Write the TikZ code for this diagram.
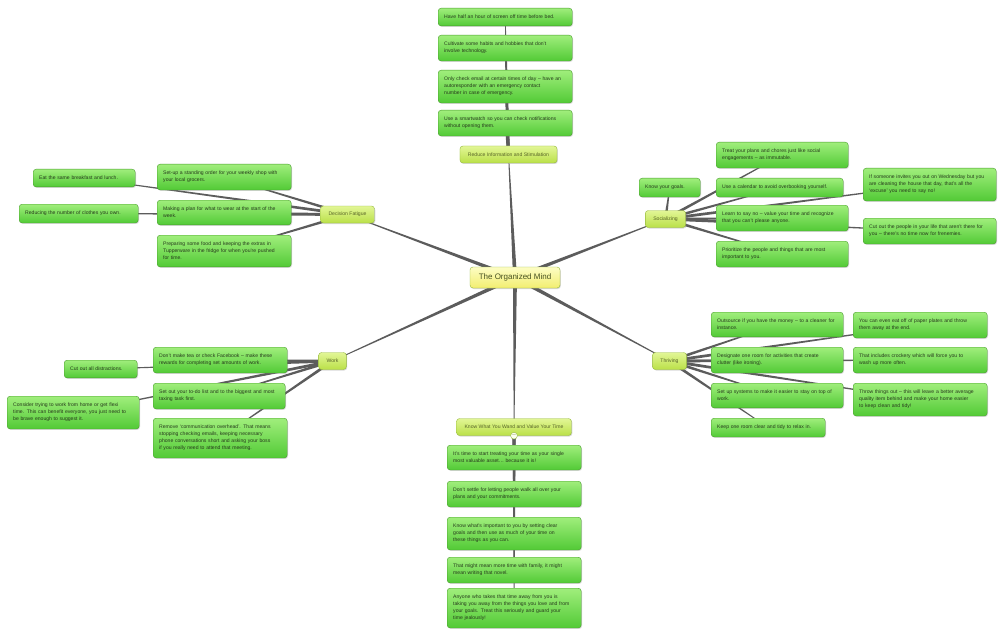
\documentclass[tikz,border=0pt]{standalone}
\usepackage{fontspec}
\setmainfont{Liberation Sans}
\usepackage{xcolor}
\usetikzlibrary{calc,shadows}
\definecolor{leaftop}{RGB}{160,238,124}
\definecolor{leafbot}{RGB}{82,202,54}
\definecolor{leafline}{RGB}{72,158,44}
\definecolor{leaftext}{RGB}{38,58,28}
\definecolor{topictop}{RGB}{226,246,150}
\definecolor{topicbot}{RGB}{186,224,72}
\definecolor{topicline}{RGB}{150,186,62}
\definecolor{topictext}{RGB}{88,100,40}
\definecolor{roottop}{RGB}{253,253,196}
\definecolor{rootbot}{RGB}{242,238,112}
\definecolor{linkc}{RGB}{92,92,92}
\pgfdeclarelayer{back}
\pgfdeclarelayer{links}
\pgfsetlayers{back,links,main}
\newcommand{\mapfont}{\fontsize{5.1}{7}\selectfont}
% tapered branch: thick at the parent, thin at the child
\newcommand{\branch}[3][1.5pt]{%
  \fill[linkc] ($(#2)!#1!90:(#3)$) -- ($(#3)!0.35pt!-90:(#2)$)
    -- ($(#3)!0.35pt!90:(#2)$) -- ($(#2)!#1!-90:(#3)$) -- cycle;}
\tikzset{
  leafbox/.style={draw=leafline, rounded corners=3pt, top color=leaftop, bottom color=leafbot,
    text=leaftext, font=\mapfont, align=left, text width=122pt, inner xsep=6pt, inner ysep=7pt,
    anchor=north west, drop shadow={shadow xshift=0.8pt, shadow yshift=-1pt, opacity=0.3}},
  topicbox/.style={draw=topicline, rounded corners=3pt, top color=topictop, bottom color=topicbot,
    text=topictext, font=\mapfont, inner xsep=8pt, inner ysep=4pt, minimum height=17pt,
    drop shadow={shadow xshift=0.8pt, shadow yshift=-1pt, opacity=0.3}},
  rootbox/.style={draw=topicline, rounded corners=3pt, top color=roottop, bottom color=rootbot,
    text=topictext!80!black, font=\fontsize{8}{9}\selectfont, minimum width=90pt, minimum height=21pt,
    drop shadow={shadow xshift=0.8pt, shadow yshift=-1pt, opacity=0.3}},
  foldbox/.style={circle, draw=topicline, fill=white!85!topictop, inner sep=0pt, minimum size=6pt,
    font=\fontsize{5}{5}\selectfont, text=topictext}
}
\begin{document}
\begin{tikzpicture}[x=1pt, y=-1pt]
\begin{pgfonlayer}{back}
\fill[white] (0,0) rectangle (1000,631);
\end{pgfonlayer}
\useasboundingbox (0,0) rectangle (1000,631);

\node[rootbox] (root) at (515,277.5) {The Organized Mind};

% topics
\node[topicbox] (tr) at (508.5,154.5) {Reduce Information and Stimulation};
\node[topicbox] (tf) at (347.5,214.5) {Decision Fatigue};
\node[topicbox] (ts) at (665.5,219) {Socializing};
\node[topicbox] (tw) at (332.5,361) {Work};
\node[topicbox] (tt) at (669.5,361) {Thriving};
\node[topicbox] (tk) at (514,427) {Know What You Wand and Value Your Time};
\node[foldbox] (kfold) at (tk.south) {$-$};

% reduce information
\node[leafbox] (r1) at (438,8) {Have half an hour of screen off time before bed.};
\node[leafbox] (r2) at (438,35) {Cultivate some habits and hobbies that don’t\\involve technology.};
\node[leafbox] (r3) at (438,70) {Only check email at certain times of day – have an\\autoresponder with an emergency contact\\number in case of emergency.};
\node[leafbox] (r4) at (438,110) {Use a smartwatch so you can check notifications\\without opening them.};

% decision fatigue
\node[leafbox, text width=90pt] (f1) at (33,169) {Eat the same breakfast and lunch.};
\node[leafbox] (f2) at (157,164) {Set-up a standing order for your weekly shop with\\your local grocers.};
\node[leafbox, text width=107pt] (f3) at (19,204) {Reducing the number of clothes you own.};
\node[leafbox] (f4) at (157,200) {Making a plan for what to wear at the start of the\\week.};
\node[leafbox] (f5) at (157,235) {Preparing some food and keeping the extras in\\Tupperware in the fridge for when you’re pushed\\for time.};

% socializing
\node[leafbox, text width=49pt] (s1) at (639,178) {Know your goals.};
\node[leafbox, text width=120pt] (s2) at (716,142) {Treat your plans and chores just like social\\engagements – as immutable.};
\node[leafbox, text width=115pt] (s3) at (716,178) {Use a calendar to avoid overbooking yourself.};
\node[leafbox, text width=120pt] (s4) at (716,205) {Learn to say no – value your time and recognize\\that you can’t please anyone.};
\node[leafbox, text width=120pt] (s5) at (716,241) {Prioritize the people and things that are most\\important to you.};
\node[leafbox, text width=121pt] (s6) at (863,168) {If someone invites you out on Wednesday but you\\are cleaning the house that day, that’s all the\\‘excuse’ you need to say no!};
\node[leafbox, text width=121pt] (s7) at (863,218) {Cut out the people in your life that aren’t there for\\you – there’s no time now for frenemies.};

% work
\node[leafbox] (w1) at (153,347) {Don’t make tea or check Facebook – make these\\rewards for completing set amounts of work.};
\node[leafbox, text width=61pt] (w2) at (64,360) {Cut out all distractions.};
\node[leafbox, text width=120pt] (w3) at (153,383) {Set out your to-do list and to the biggest and most\\taxing task first.};
\node[leafbox, text width=120pt] (w4) at (7,396) {Consider trying to work from home or get flexi\\time. This can benefit everyone, you just need to\\be brave enough to suggest it.};
\node[leafbox] (w5) at (153,418) {Remove ‘communication overhead’. That means\\stopping checking emails, keeping necessary\\phone conversations short and asking your boss\\if you really need to attend that meeting.};

% thriving
\node[leafbox, text width=120pt] (h1) at (711,312) {Outsource if you have the money – to a cleaner for\\instance.};
\node[leafbox] (h2) at (853,312) {You can even eat off of paper plates and throw\\them away at the end.};
\node[leafbox, text width=120pt] (h3) at (711,347) {Designate one room for activities that create\\clutter (like ironing).};
\node[leafbox] (h4) at (853,347) {That includes crockery which will force you to\\wash up more often.};
\node[leafbox, text width=120pt] (h5) at (711,383) {Set up systems to make it easier to stay on top of\\work.};
\node[leafbox] (h6) at (853,383) {Throw things out – this will leave a better average\\quality item behind and make your home easier\\to keep clean and tidy!};
\node[leafbox, text width=102pt] (h7) at (711,418) {Keep one room clear and tidy to relax in.};

% know what you want
\node[leafbox] (k1) at (447,445) {It’s time to start treating your time as your single\\most valuable asset… because it is!};
\node[leafbox] (k2) at (447,481) {Don’t settle for letting people walk all over your\\plans and your commitments.};
\node[leafbox] (k3) at (447,517) {Know what’s important to you by setting clear\\goals and then use as much of your time on\\these things as you can.};
\node[leafbox] (k4) at (447,557) {That might mean more time with family, it might\\mean writing that novel.};
\node[leafbox] (k5) at (447,588) {Anyone who takes that time away from you is\\taking you away from the things you love and from\\your goals. Treat this seriously and guard your\\time jealously!};

\begin{pgfonlayer}{links}
\foreach \t in {tr,tf,ts,tw,tt,tk} {\branch[2pt]{root}{\t}}
\foreach \n in {r1,r2,r3,r4} {\branch{tr}{\n}}
\foreach \n in {f1,f2,f3,f4,f5} {\branch{tf}{\n}}
\foreach \n in {s1,s2,s3,s4,s5,s6,s7} {\branch{ts}{\n}}
\foreach \n in {w1,w2,w3,w4,w5} {\branch{tw}{\n}}
\foreach \n in {h1,h2,h3,h4,h5,h6,h7} {\branch{tt}{\n}}
\foreach \n in {k1,k2,k3,k4,k5} {\branch{tk}{\n}}
\end{pgfonlayer}
\end{tikzpicture}
\end{document}
